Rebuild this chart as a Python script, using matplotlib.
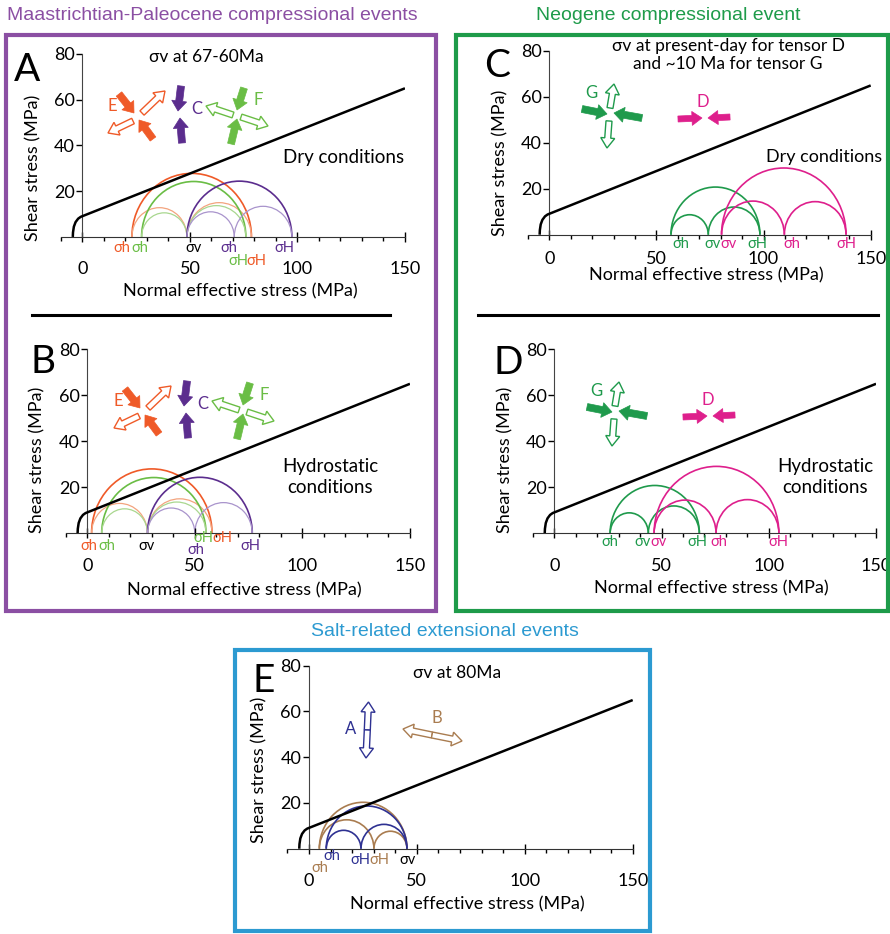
import numpy as np
import matplotlib
matplotlib.use("Agg")
import matplotlib.pyplot as plt
from matplotlib.patches import Arc, Polygon, Rectangle
from matplotlib.ticker import MultipleLocator

plt.rcParams['font.family'] = ['Lato', 'DejaVu Sans']
NARROW = ['Liberation Sans Narrow', 'Liberation Sans', 'DejaVu Sans']

# failure envelope
env_x = [-4.5, -4.4, -4.0, -3.2, -2.0, -0.8, 0.0, 150.0]
env_y = [0.0, 2.0, 4.5, 6.5, 8.0, 8.8, 9.1, 65.0]

# principal effective stresses [sigma3, sigma2, sigma1] in MPa
a_E = [23.0, 48.6, 78.6]
a_F = [27.5, 48.6, 76.0]
a_C = [48.6, 70.6, 97.4]
b_E = [2.0, 28.0, 58.0]
b_F = [6.7, 28.0, 55.2]
b_C = [28.0, 50.0, 76.7]
c_G = [56.8, 74.2, 98.3]
c_D = [80.4, 109.7, 138.5]
d_G = [26.0, 43.8, 67.6]
d_D = [46.5, 75.4, 104.7]
e_A = [8.0, 24.1, 45.4]
e_B = [4.8, 30.1, 45.4]

# colours
RED, RED_L = '#EF5A28', '#F3A47E'
PUR, PUR_L = '#5B2D8E', '#A994CC'
GRN, GRN_L = '#6ABD45', '#A9D78F'
NGRN = '#1F9A4C'
PINK = '#DE1F8C'
BLUE = '#2E3192'
BROWN = '#A97C50'

FS = 13      # tick / axis label size
SFS = 10.5   # sigma labels

fig = plt.figure(figsize=(8.9, 9.34), dpi=100)


def mohr(ax, s, col, col_small=None, lw=1.2, lw_small=None):
    col_small = col_small or col
    lw_small = lw_small or lw
    big = Arc(((s[0] + s[2]) / 2, 0), s[2] - s[0], s[2] - s[0], theta1=0, theta2=180,
              color=col, lw=lw)
    ax.add_patch(big)
    for lo, hi in [(s[0], s[1]), (s[1], s[2])]:
        ax.add_patch(Arc(((lo + hi) / 2, 0), hi - lo, hi - lo, theta1=0, theta2=180,
                         color=col_small, lw=lw_small))


def panel(rect, xl_y, ylab_y, tick_pad=14):
    ax = fig.add_axes(rect)
    ax.set_xlim(-10, 150)
    ax.set_ylim(0, 80)
    ax.patch.set_visible(False)
    for s in ['top', 'right']:
        ax.spines[s].set_visible(False)
    ax.spines['left'].set_position(('data', 0))
    ax.spines['left'].set_color('#444444')
    ax.spines['bottom'].set_color('#333333')
    ax.set_xticks([0, 50, 100, 150])
    ax.xaxis.set_minor_locator(MultipleLocator(10))
    ax.set_yticks([20, 40, 60, 80])
    ax.tick_params(axis='x', which='major', direction='inout', length=7, width=1,
                   pad=tick_pad, labelsize=FS)
    ax.tick_params(axis='x', which='minor', direction='out', length=3, width=1)
    ax.tick_params(axis='y', direction='out', length=4, width=1, pad=1.5, labelsize=FS)
    ax.plot(env_x, env_y, color='black', lw=1.8, solid_capstyle='butt', zorder=3)
    ax.set_xlabel('Normal effective stress (MPa)', fontsize=FS)
    ax.set_ylabel('Shear stress (MPa)', fontsize=FS)
    ax.xaxis.set_label_coords(0.52, xl_y)
    ax.yaxis.set_label_coords(-0.058, ylab_y)
    return ax


def slabel(ax, txt, x, dy, col):
    ax.annotate(txt, xy=(x, 0), xytext=(0, -dy), textcoords='offset pixels',
                ha='center', va='center', fontsize=SFS, color=col, annotation_clip=False)


# ---- panel A
axA = panel([0.0685, 0.7463, 0.3865, 0.1959], -0.255, 0.38)
mohr(axA, a_E, RED, RED_L, 1.2, 0.9)
mohr(axA, a_F, GRN, GRN_L, 1.2, 0.9)
mohr(axA, a_C, PUR, PUR_L, 1.2, 0.9)
for t, x, dy, c in [('σh', 18.3, 11, RED), ('σh', 26.8, 11, GRN), ('σv', 51.5, 11, 'black'),
                    ('σh', 68.2, 11, PUR), ('σH', 93.8, 11, PUR),
                    ('σH', 72.3, 24, GRN), ('σH', 81.0, 24, RED)]:
    slabel(axA, t, x, dy, c)

# ---- panel B
axB = panel([0.0739, 0.4290, 0.3867, 0.1970], -0.265, 0.40)
mohr(axB, b_E, RED, RED_L, 1.2, 0.9)
mohr(axB, b_F, GRN, GRN_L, 1.2, 0.9)
mohr(axB, b_C, PUR, PUR_L, 1.2, 0.9)
for t, x, dy, c in [('σh', 0.6, 13, RED), ('σh', 9.0, 13, GRN), ('σv', 27.6, 13, 'black'),
                    ('σH', 54.0, 5, GRN), ('σH', 62.8, 5, RED),
                    ('σh', 50.5, 17, PUR), ('σH', 76.0, 13, PUR)]:
    slabel(axB, t, x, dy, c)

# ---- panel C
axC = panel([0.5931, 0.7487, 0.3852, 0.1967], -0.18, 0.39, tick_pad=8)
mohr(axC, c_G, NGRN)
mohr(axC, c_D, PINK)
for t, x, c in [('σh', 61.5, NGRN), ('σv', 76.2, NGRN), ('σv', 83.6, PINK),
                ('σH', 97.0, NGRN), ('σh', 113.0, PINK), ('σH', 138.8, PINK)]:
    slabel(axC, t, x, 9, c)

# ---- panel D
axD = panel([0.5988, 0.4290, 0.3855, 0.1970], -0.255, 0.40)
mohr(axD, d_G, NGRN)
mohr(axD, d_D, PINK)
for t, x, c in [('σh', 26.0, NGRN), ('σv', 41.2, NGRN), ('σv', 48.5, PINK),
                ('σH', 66.5, NGRN), ('σh', 76.6, PINK), ('σH', 104.4, PINK)]:
    slabel(axD, t, x, 9, c)

# ---- panel E
axE = panel([0.3229, 0.0913, 0.3880, 0.1959], -0.26, 0.43)
mohr(axE, e_B, BROWN)
mohr(axE, e_A, BLUE)
for t, x, dy, c in [('σh', 10.5, 7, BLUE), ('σh', 4.8, 19, BROWN), ('σH', 24.0, 11, BLUE),
                    ('σH', 32.6, 11, BROWN), ('σv', 45.8, 11, 'black')]:
    slabel(axE, t, x, dy, c)

# ---- overlay in pixel coordinates: frames, titles, stress symbols
ov = fig.add_axes([0, 0, 1, 1], zorder=10)
ov.set_xlim(0, 890)
ov.set_ylim(934, 0)
ov.axis('off')
ov.patch.set_visible(False)

ov.add_patch(Rectangle((6, 35), 430, 576, fill=False, ec='#8B4FA3', lw=3))
ov.add_patch(Rectangle((456, 35), 432, 576, fill=False, ec='#1E9B4A', lw=3))
ov.add_patch(Rectangle((235, 650), 415, 281, fill=False, ec='#2C9AD1', lw=3))
ov.plot([32, 390], [315, 315], color='black', lw=2.2)
ov.plot([478, 878], [315, 315], color='black', lw=2.2)

ov.text(212, 16, 'Maastrichtian-Paleocene compressional events', ha='center', va='center',
        fontsize=14, color='#8B4FA3', family=NARROW)
ov.text(668, 16, 'Neogene compressional event', ha='center', va='center',
        fontsize=14, color='#1E9B4A', family=NARROW)
ov.text(445, 632, 'Salt-related extensional events', ha='center', va='center',
        fontsize=14, color='#2C9AD1', family=NARROW)

for t, x, y in [('A', 27, 70), ('B', 43, 362), ('C', 497, 66), ('D', 508, 363), ('E', 264, 681)]:
    ov.text(x, y, t, ha='center', va='center', fontsize=28)

ov.text(206, 57, 'σv at 67-60Ma', ha='center', va='center', fontsize=12.5)
ov.text(344, 157, 'Dry conditions', ha='center', va='center', fontsize=13.5)
ov.text(330, 477, 'Hydrostatic\nconditions', ha='center', va='center', fontsize=13.5,
        linespacing=1.25)
ov.text(728, 55, 'σv at present-day for tensor D\nand ~10 Ma for tensor G', ha='center',
        va='center', fontsize=12.5, linespacing=1.2)
ov.text(824, 157, 'Dry conditions', ha='center', va='center', fontsize=13)
ov.text(825, 477, 'Hydrostatic\nconditions', ha='center', va='center', fontsize=13.5,
        linespacing=1.25)
ov.text(457, 673, 'σv at 80Ma', ha='center', va='center', fontsize=12.5)


def arrow(tail, tip, col, filled=True, sw=7.0, hw=15.0, hl=10.0):
    tail, tip = np.array(tail, float), np.array(tip, float)
    d = tip - tail
    u = d / np.hypot(*d)
    n = np.array([-u[1], u[0]])
    base = tip - u * hl
    pts = [tail + n * sw / 2, base + n * sw / 2, base + n * hw / 2, tip,
           base - n * hw / 2, base - n * sw / 2, tail - n * sw / 2]
    if filled:
        ov.add_patch(Polygon(pts, closed=True, fc=col, ec=col, lw=0.5))
    else:
        ov.add_patch(Polygon(pts, closed=True, fc='white', ec=col, lw=1.0))


def icons_EFC(dx, dy):
    o = np.array([dx, dy])
    # E: NW-SE compression, NE-SW extension
    arrow(o + (119, 94), o + (134, 113), RED)
    arrow(o + (153, 139), o + (139, 120), RED)
    arrow(o + (142, 113), o + (165, 91), RED, filled=False, sw=6, hw=14)
    arrow(o + (133, 121), o + (108, 133), RED, filled=False, sw=6, hw=14)
    ov.text(*(o + (112, 106)), 'E', color=RED, fontsize=12, ha='center', va='center')
    # C: near-vertical compression
    arrow(o + (181, 86), o + (178, 111), PUR)
    arrow(o + (182, 143), o + (180, 118), PUR)
    ov.text(*(o + (197, 109)), 'C', color=PUR, fontsize=12, ha='center', va='center')
    # F: NNE-SSW compression, WNW-ESE extension
    arrow(o + (244, 88), o + (237, 110), GRN)
    arrow(o + (231, 144), o + (237, 119), GRN)
    arrow(o + (233, 115), o + (206, 106), GRN, filled=False, sw=6, hw=14)
    arrow(o + (241, 117), o + (268, 126), GRN, filled=False, sw=6, hw=14)
    ov.text(*(o + (258, 100)), 'F', color=GRN, fontsize=12, ha='center', va='center')


def icons_GD(dx, dy):
    o = np.array([dx, dy])
    arrow(o + (582, 109), o + (607, 114), NGRN)
    arrow(o + (642, 118), o + (614, 113), NGRN)
    arrow(o + (610, 108), o + (614, 84), NGRN, filled=False, sw=6, hw=14)
    arrow(o + (609, 121), o + (607, 148), NGRN, filled=False, sw=6, hw=14)
    ov.text(*(o + (591, 93)), 'G', color=NGRN, fontsize=12, ha='center', va='center')
    arrow(o + (678, 119), o + (702, 118), PINK, sw=6, hw=14)
    arrow(o + (730, 117), o + (708, 118), PINK, sw=6, hw=14)
    ov.text(*(o + (703, 102)), 'D', color=PINK, fontsize=12, ha='center', va='center')


icons_EFC(0, 0)
icons_EFC(6, 295)
icons_GD(0, 0)
icons_GD(5, 298)

# E panel: extension symbols
arrow((367.3, 730), (368.5, 702), BLUE, filled=False, sw=6, hw=14, hl=10)
arrow((367.3, 730), (366, 758), BLUE, filled=False, sw=6, hw=14, hl=10)
ov.text(351, 729, 'A', color=BLUE, fontsize=12, ha='center', va='center')
arrow((432, 735), (403, 729), BROWN, filled=False, sw=6, hw=14, hl=10)
arrow((432, 735), (462, 741), BROWN, filled=False, sw=6, hw=14, hl=10)
ov.text(437, 718, 'B', color=BROWN, fontsize=12, ha='center', va='center')

fig.savefig('out.png', dpi=100)
